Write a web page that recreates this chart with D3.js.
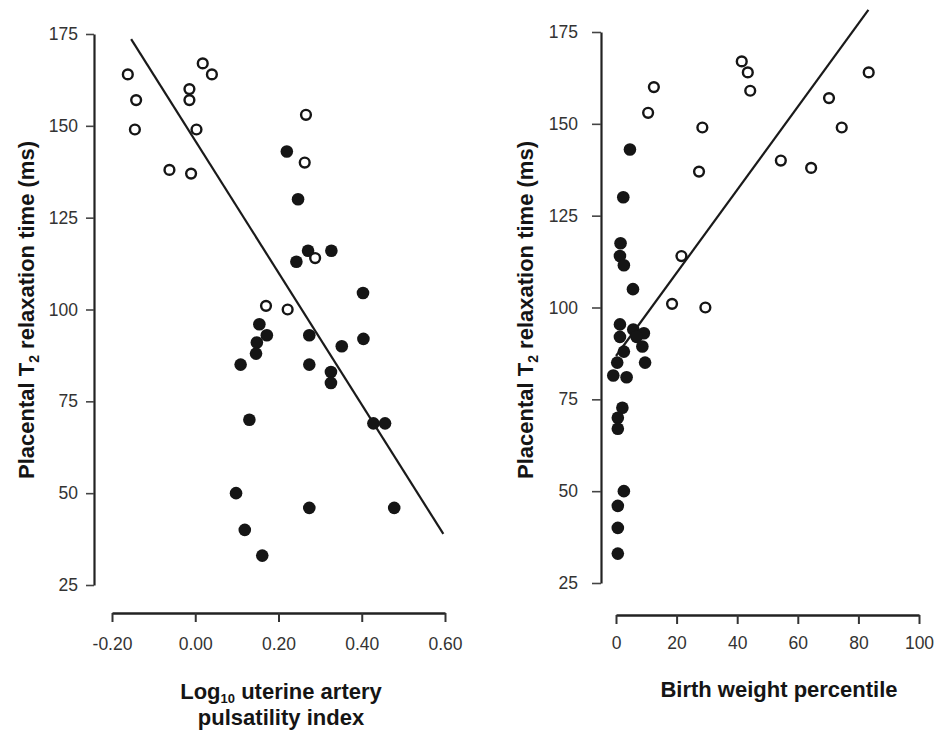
<!DOCTYPE html>
<html>
<head>
<meta charset="utf-8">
<script src="https://cdn.jsdelivr.net/npm/d3@7"></script>
<style>
  html, body { margin: 0; padding: 0; background: #fff; }
  svg { display: block; font-family: "Liberation Sans", Arial, sans-serif; }
</style>
</head>
<body>
<svg id="chart" width="936" height="732"></svg>
<script>
// ---------- Data ----------
const yTicks = [25, 50, 75, 100, 125, 150, 175];
const leftXTicks = [-0.2, 0, 0.2, 0.4, 0.6];
const rightXTicks = [0, 20, 40, 60, 80, 100];

// Left panel: Log10 uterine artery PI vs T2
const leftOpenX = [-0.162, -0.142, -0.145, 0.018, 0.040, -0.014, -0.014, 0.003, -0.062, -0.010, 0.266, 0.263, 0.288, 0.170, 0.222];
const leftOpenY = [164, 157, 149, 167, 164, 160, 157, 149, 138, 137, 153, 140, 114, 101, 100];
const leftFilledX = [0.220, 0.247, 0.271, 0.243, 0.327, 0.403, 0.154, 0.172, 0.148, 0.146, 0.109, 0.274, 0.404, 0.352, 0.274, 0.326, 0.326, 0.130, 0.428, 0.456, 0.098, 0.274, 0.478, 0.119, 0.161];
const leftFilledY = [143, 130, 116, 113, 116, 104.5, 96, 93, 91, 88, 85, 93, 92, 90, 85, 83, 80, 70, 69, 69, 50, 46, 46, 40, 33];
const leftLineX = [-0.154, 0.596];
const leftLineY = [173.6, 38.9];

// Right panel: Birth weight percentile vs T2
const rightOpenX = [41.5, 43.5, 44.3, 12.5, 10.6, 28.5, 27.4, 54.4, 64.4, 70.3, 74.5, 83.4, 21.6, 18.5, 29.5];
const rightOpenY = [167, 164, 159, 160, 153, 149, 137, 140, 138, 157, 149, 164, 114, 101, 100];
const rightFilledX = [4.6, 2.4, 1.5, 1.3, 2.6, 5.6, 1.3, 5.7, 9.2, 1.3, 6.8, 8.7, 2.6, 0.4, 9.6, -0.9, 3.5, 2.1, 0.6, 0.6, 2.6, 0.6, 0.6, 0.6];
const rightFilledY = [143, 130, 117.5, 114, 111.5, 105, 95.4, 94, 93, 92, 92, 89.4, 88, 85, 85, 81.5, 81, 72.7, 70, 67, 50, 46, 40, 33];
const rightLineX = [0, 83.3];
const rightLineY = [86.8, 181];

// ---------- Drawing ----------
const svg = d3.select("#chart");
const ink = "#151515";
const tickColor = "#333";
const titleSize = "22px";

function zip(xs, ys) { return xs.map((x, i) => ({ x, y: ys[i] })); }

function panel(cfg) {
  const g = svg.append("g");
  const x = d3.scaleLinear().domain(cfg.xDomain).range(cfg.xRange);
  const y = d3.scaleLinear().domain([25, 175]).range(cfg.yRange);

  // Y axis
  const ya = g.append("g").attr("transform", `translate(${cfg.yAxisX},0)`)
    .call(d3.axisLeft(y).tickValues(yTicks).tickSizeInner(cfg.yTickLen).tickSizeOuter(0).tickPadding(cfg.yTickPad).tickFormat(d3.format("d")));
  ya.select(".domain").attr("stroke", "#222").attr("stroke-width", 2.2);
  ya.selectAll(".tick line").attr("stroke", "#444").attr("stroke-width", 1.6);
  ya.selectAll(".tick text").attr("fill", tickColor).style("font-size", "17.5px").style("font-family", "Liberation Sans, Arial, sans-serif");

  // X axis
  const xa = g.append("g").attr("transform", `translate(0,${cfg.xAxisY})`)
    .call(d3.axisBottom(x).tickValues(cfg.xTicks).tickSizeInner(9).tickSizeOuter(0).tickPadding(cfg.xTickPad).tickFormat(cfg.xFormat));
  xa.select(".domain").attr("stroke", "#222").attr("stroke-width", 2.6);
  xa.selectAll(".tick line").attr("stroke", "#333").attr("stroke-width", 2);
  xa.selectAll(".tick text").attr("fill", tickColor).style("font-size", "17.5px").style("font-family", "Liberation Sans, Arial, sans-serif");

  // Regression line
  g.append("path")
    .datum(zip(cfg.lineX, cfg.lineY))
    .attr("d", d3.line().x(d => x(d.x)).y(d => y(d.y)))
    .attr("fill", "none").attr("stroke", "#1a1a1a").attr("stroke-width", 2.2);

  // Filled points
  g.selectAll("circle.filled").data(zip(cfg.filledX, cfg.filledY)).enter()
    .append("circle").attr("class", "filled")
    .attr("cx", d => x(d.x)).attr("cy", d => y(d.y)).attr("r", 6.3)
    .attr("fill", ink);

  // Open points
  g.selectAll("circle.open").data(zip(cfg.openX, cfg.openY)).enter()
    .append("circle").attr("class", "open")
    .attr("cx", d => x(d.x)).attr("cy", d => y(d.y)).attr("r", 4.9)
    .attr("fill", "#fff").attr("stroke", ink).attr("stroke-width", 2.4);

  // Y title (rotated) with subscript
  const yt = g.append("text")
    .attr("transform", `translate(${cfg.yTitleX},${cfg.yTitleY}) rotate(-90)`)
    .attr("text-anchor", "middle")
    .style("font-size", titleSize).style("font-weight", "bold").attr("fill", ink);
  yt.append("tspan").text("Placental T");
  yt.append("tspan").text("2").style("font-size", "14px").attr("dy", 5);
  yt.append("tspan").text(" relaxation time (ms)").attr("dy", -5);

  return { x, y, g };
}

const left = panel({
  xDomain: [-0.2, 0.6], xRange: [112, 445],
  yRange: [585, 34], yAxisX: 94, xAxisY: 613,
  yTickLen: 8, yTickPad: 8, xTickPad: 16,
  xTicks: leftXTicks, xFormat: d => d.toFixed(2),
  openX: leftOpenX, openY: leftOpenY, filledX: leftFilledX, filledY: leftFilledY,
  lineX: leftLineX, lineY: leftLineY,
  yTitleX: 34, yTitleY: 310
});

const right = panel({
  xDomain: [0, 100], xRange: [616, 919],
  yRange: [583, 32], yAxisX: 601, xAxisY: 615,
  yTickLen: 9, yTickPad: 14, xTickPad: 13,
  xTicks: rightXTicks, xFormat: d3.format("d"),
  openX: rightOpenX, openY: rightOpenY, filledX: rightFilledX, filledY: rightFilledY,
  lineX: rightLineX, lineY: rightLineY,
  yTitleX: 533, yTitleY: 310
});

// X titles
const lt = svg.append("text").attr("x", 281).attr("y", 699).attr("text-anchor", "middle")
  .style("font-size", titleSize).style("font-weight", "bold").attr("fill", ink);
lt.append("tspan").text("Log");
lt.append("tspan").text("10").style("font-size", "13px").attr("dy", 4);
lt.append("tspan").text(" uterine artery").attr("dy", -4);
svg.append("text").attr("x", 281).attr("y", 725).attr("text-anchor", "middle")
  .style("font-size", titleSize).style("font-weight", "bold").attr("fill", ink)
  .text("pulsatility index");

svg.append("text").attr("x", 779).attr("y", 697).attr("text-anchor", "middle")
  .style("font-size", titleSize).style("font-weight", "bold").attr("fill", ink)
  .text("Birth weight percentile");
</script>
</body>
</html>
